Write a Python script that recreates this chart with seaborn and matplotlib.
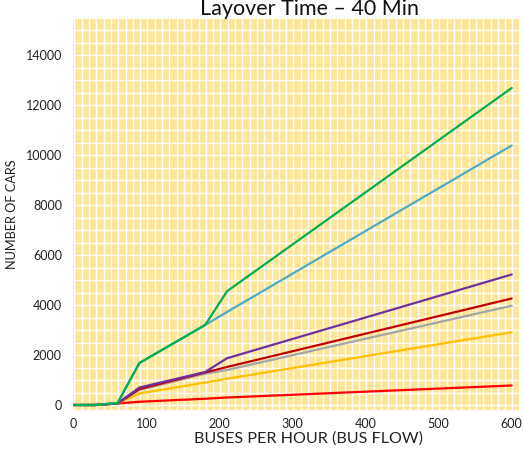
import matplotlib
matplotlib.use("Agg")
import matplotlib.pyplot as plt
import numpy as np
import pandas as pd
import seaborn as sns

# buses per hour (x) and number of cars for each series
bus_flow = [0, 30, 60, 90, 180, 210, 600]
green = [0, 0, 80, 1680, 3200, 4550, 12680]
blue = [0, 0, 80, 1680, 3200, 3720, 10380]
purple = [0, 0, 70, 700, 1320, 1870, 5220]
dark_red = [0, 0, 60, 640, 1300, 1520, 4260]
gray = [0, 0, 60, 600, 1250, 1400, 3970]
amber = [0, 0, 60, 460, 900, 1050, 2910]
red = [0, 0, 60, 130, 250, 300, 780]

series = [
    ("green", green, "#00B050"),
    ("blue", blue, "#4BACC6"),
    ("purple", purple, "#7030A0"),
    ("dark_red", dark_red, "#C00000"),
    ("gray", gray, "#A5A5A5"),
    ("amber", amber, "#FFC000"),
    ("red", red, "#FF0000"),
]

y_ticks = [0, 2000, 4000, 6000, 8000, 10000, 12000, 14000]
x_ticks = [0, 100, 200, 300, 400, 500, 600]

sns.set_theme(style="white")
plt.rcParams["font.family"] = ["Lato", "DejaVu Sans"]

fig = plt.figure(figsize=(5.24, 4.5), dpi=100)
ax = fig.add_axes([73 / 524, 1 - 410 / 450, (519 - 73) / 524, (410 - 19) / 450])
ax.set_facecolor("#FFE597")

# patterned background: thin white grid
for gx in np.arange(0, 611, 10):
    ax.axvline(gx + 1, color="white", lw=1.0, zorder=0)
for gy in np.arange(0, 15500, 500):
    ax.axhline(gy, color="white", lw=1.0, zorder=0)

for name, vals, col in reversed(series):
    df = pd.DataFrame({"x": bus_flow, "y": vals})
    sns.lineplot(data=df, x="x", y="y", color=col, lw=1.6, ax=ax, zorder=3)

ax.set_xlim(-1, 610)
ax.set_ylim(-200, 15440)
ax.set_xticks(x_ticks)
ax.set_yticks(y_ticks)
ax.tick_params(labelsize=9, length=0, colors="#222222")
ax.tick_params(axis="y", pad=8)
ax.tick_params(axis="x", pad=6)
for s in ax.spines.values():
    s.set_visible(False)
ax.set_xlabel("")
ax.set_ylabel("")

fig.text(12 / 524, 1 - 214 / 450, "NUMBER OF CARS", rotation=90, ha="center",
         va="center", fontsize=9.2, color="#222222")
fig.text(308 / 524, 1 - 439 / 450, "BUSES PER HOUR (BUS FLOW)", ha="center",
         va="center", fontsize=11.6, color="#222222")
fig.text(309 / 524, 1 - 9 / 450, "Layover Time \u2013 40 Min", ha="center",
         va="center", fontsize=15.5, color="#111111")

fig.savefig("out.png", dpi=100)
